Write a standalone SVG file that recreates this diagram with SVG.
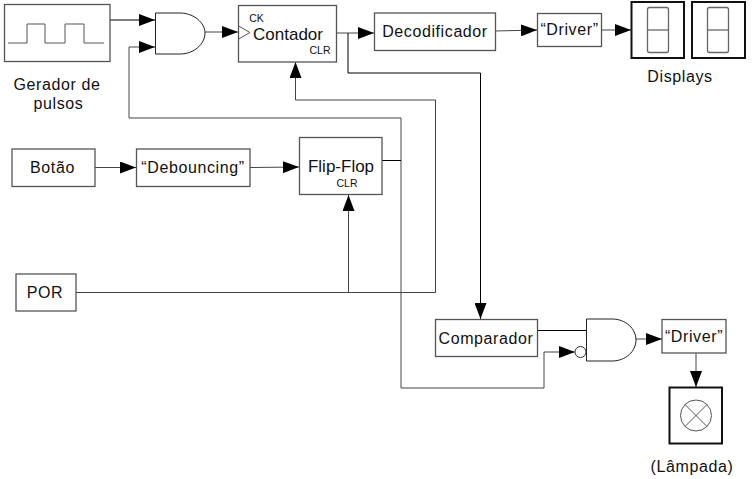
<svg xmlns="http://www.w3.org/2000/svg" width="752" height="479" viewBox="0 0 752 479">
<style>
text{font-family:"Liberation Sans",Arial,sans-serif;font-size:16px;letter-spacing:.6px;fill:#111;text-anchor:middle}
.small{font-size:10.500px;letter-spacing:0}
.big{font-size:17px;letter-spacing:0}
.box{fill:#fff;stroke:#555;stroke-width:1.300}
.thick{fill:#fff;stroke:#111;stroke-width:2}
.thin{fill:none;stroke:#555;stroke-width:1}
.seg{fill:none;stroke:#666;stroke-width:1.300}
.c{fill:none;stroke:#444;stroke-width:1}
.k{fill:none;stroke:#000;stroke-width:1}
.a{marker-end:url(#arr)}
</style>
<defs>
<marker id="arr" markerUnits="userSpaceOnUse" markerWidth="16" markerHeight="12" refX="16" refY="6" orient="auto"><path d="M0 0L16 6L0 12Z" fill="#000"/></marker>
</defs>
<rect width="752" height="479" fill="#fff"/>
<g id="connectors">
<path class="k a" d="M110 20H155"/>
<path class="c a" d="M129 118V47H155"/>
<path class="c" d="M129 118H401V388"/>
<path class="c a" d="M401 388H544V352H575"/>
<path class="c a" d="M205 32H238"/>
<path class="c a" d="M336 33H374"/>
<path class="k a" d="M348 33V73H480.500V319"/>
<path class="c a" d="M495 31L537 30"/>
<path class="c a" d="M601 30H631"/>
<path class="c a" d="M95 167.500H136"/>
<path class="c a" d="M250 167.500L299 167"/>
<path class="k" d="M382 160.500H401"/>
<path class="c" d="M76 292.500H435.500V100"/>
<path class="c a" d="M435.500 100H295.500V62"/>
<path class="c a" d="M348.500 292V195"/>
<path class="k" d="M537 330.500H586"/>
<path class="c a" d="M636 339H662"/>
<path class="c a" d="M696 353V387"/>
</g>
<g id="gerador">
<rect class="box" x="4.500" y="4.500" width="105.500" height="57"/>
<path class="thin" d="M8 43H27V24H45V43H65V24H84V43H104"/>
<text x="57" y="90">Gerador de</text>
<text x="58.500" y="109">pulsos</text>
</g>
<g id="and">
<path d="M155.500 13H180C194 13 205 23 205 33C205 44 194 54 180 54H155.500Z" fill="#fff" stroke="#222"/>
</g>
<g id="contador">
<rect class="box" x="238.500" y="5.500" width="98" height="56.500"/>
<path class="thin" d="M238.500 26L250 32.500L238.500 39"/>
<text class="small" x="256.500" y="22">CK</text>
<text class="big" x="288" y="40">Contador</text>
<text class="small" x="320" y="54">CLR</text>
</g>
<g id="decodificador">
<rect class="box" x="374.500" y="13" width="121" height="37.500"/>
<text x="435" y="37">Decodificador</text>
</g>
<g id="driver1">
<rect class="box" x="537.500" y="13.500" width="64" height="33"/>
<text x="569.500" y="35">“Driver”</text>
</g>
<g id="displays">
<rect class="thick" x="631.500" y="2" width="52.500" height="56"/>
<rect class="thick" x="692" y="2" width="53" height="56"/>
<rect class="seg" x="647.500" y="7.500" width="21" height="45" rx="2"/>
<path class="seg" d="M647.500 30H668.500"/>
<rect class="seg" x="707.500" y="7.500" width="21" height="45" rx="2"/>
<path class="seg" d="M707.500 30H728.500"/>
<text x="680" y="82">Displays</text>
</g>
<g id="botao">
<rect class="box" x="12" y="149" width="83" height="37.500"/>
<text x="52.500" y="173">Botão</text>
</g>
<g id="debouncing">
<rect class="box" x="136.500" y="149" width="113.500" height="37.500"/>
<text x="193" y="173">“Debouncing”</text>
</g>
<g id="flipflop">
<rect class="box" x="299.500" y="137.500" width="82.500" height="57"/>
<text class="big" x="341" y="172">Flip-Flop</text>
<text class="small" x="347" y="187">CLR</text>
</g>
<g id="por">
<rect class="box" x="16" y="274" width="60" height="37"/>
<text x="45" y="298">POR</text>
</g>
<g id="comparador">
<rect class="box" x="435.500" y="319.500" width="102" height="37"/>
<text x="486" y="344">Comparador</text>
</g>
<g id="nand">
<circle cx="580.500" cy="352" r="5.500" fill="#fff" stroke="#333"/>
<path d="M586.500 319H612C626 319 636 329 636 340C636 351 626 361 612 361H586.500Z" fill="#fff" stroke="#222"/>
</g>
<g id="driver2">
<rect class="box" x="662" y="319.500" width="64" height="33.500"/>
<text x="694" y="342">“Driver”</text>
</g>
<g id="lampada">
<rect class="thick" x="669.500" y="387.500" width="52.500" height="56"/>
<circle class="thin" cx="696" cy="415.500" r="15.500"/>
<path class="thin" d="M685 404.500L707 426.500M707 404.500L685 426.500"/>
<text x="692" y="472">(Lâmpada)</text>
</g>
</svg>
